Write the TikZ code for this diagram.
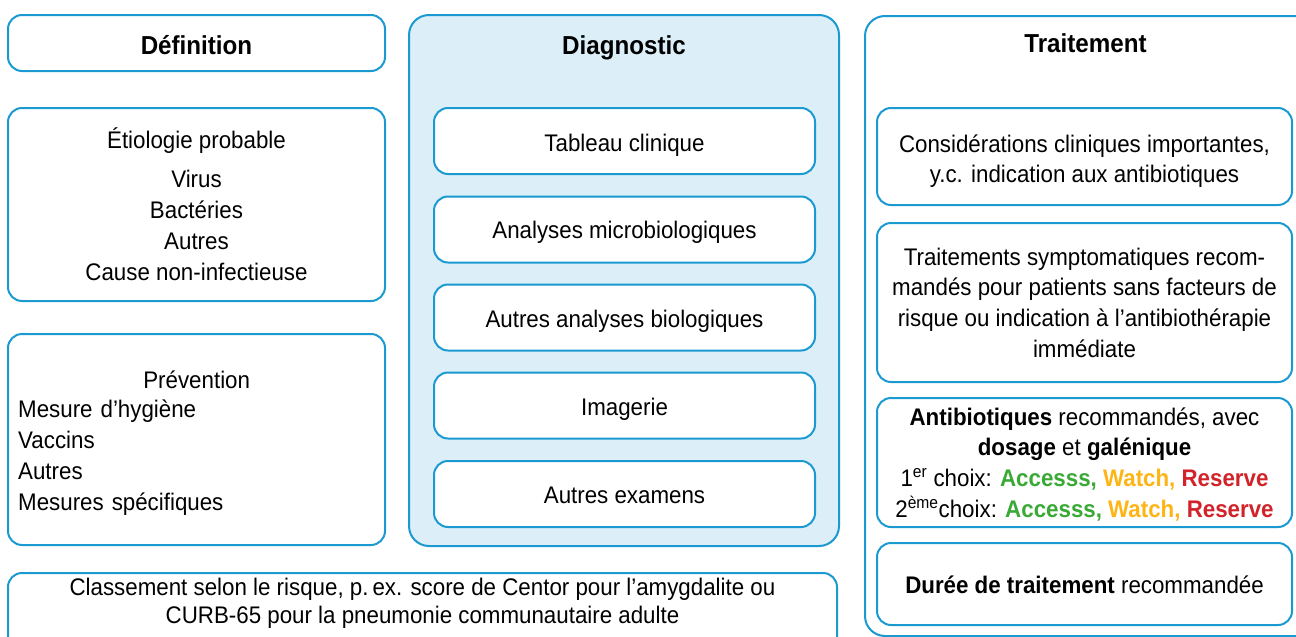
\documentclass[tikz,border=0pt]{standalone}
\usepackage{fontspec}
\setmainfont{Liberation Sans}[FakeStretch=0.93]
\definecolor{bblue}{HTML}{1B9AD2}
\definecolor{lblue}{HTML}{DCEEF8}
\definecolor{agreen}{HTML}{3AA935}
\definecolor{ayellow}{HTML}{FDB515}
\definecolor{ared}{HTML}{D2232A}
\newcommand{\topstrut}{\rule{0pt}{24pt}}
\begin{document}
\begin{tikzpicture}[x=1pt,y=-1pt,
  box/.style={draw=bblue, line width=2pt, rounded corners=14pt, fill=white, inner sep=0pt},
  outerbox/.style={draw=bblue, line width=2pt, rounded corners=20pt, inner sep=0pt},
  head/.style={font=\fontsize{26}{31}\selectfont\bfseries, anchor=base, inner sep=0pt},
  one/.style={font=\fontsize{24}{31}\selectfont, anchor=base, inner sep=0pt},
  multi/.style={font=\fontsize{24}{#1}\selectfont, align=center, anchor=north, inner sep=0pt},
  multi/.default=31,
]
\useasboundingbox (0,0) rectangle (1296,637);
\clip (0,0) rectangle (1296,637);

% ---------- left column ----------
\node[box, minimum width=377, minimum height=56] (def) at (196.5,43) {};
\node[head] (deft) at (196.5,54.5) {Définition};

\node[box, minimum width=377, minimum height=193] (etio) at (196.5,204.5) {};
\node[multi] (etiot) at (196.5,124) {\topstrut Étiologie probable\\[8pt]Virus\\Bactéries\\Autres\\Cause non-infectieuse};

\node[box, minimum width=377, minimum height=211] (prev) at (196.5,439.5) {};
\node[font=\fontsize{24}{31}\selectfont, align=left, text width=357, anchor=north west, inner sep=0pt]
  (prevt) at (18,364) {\topstrut\makebox[357pt]{Prévention}\\[-2pt]Mesure d’hygiène\\Vaccins\\Autres\\Mesures spécifiques};

% ---------- bottom box ----------
\node[box, minimum width=829, minimum height=120, anchor=north] (riskbox) at (422.5,572) {};
\node[multi=28] (risk) at (422.5,571) {\topstrut Classement selon le risque, p.\,ex. score de Centor pour l’amygdalite ou\\CURB-65 pour la pneumonie communautaire adulte};

% ---------- diagnostic ----------
\node[outerbox, fill=lblue, minimum width=430, minimum height=531] (diag) at (624,280.5) {};
\node[head] (diagt) at (624,54) {Diagnostic};
\node[box, minimum width=381, minimum height=66] (d1) at (624.5,141) {};
\node[one] (d1t) at (624.5,151) {Tableau clinique};
\node[box, minimum width=381, minimum height=66] (d2) at (624.5,229.5) {};
\node[one] (d2t) at (624.5,238.5) {Analyses microbiologiques};
\node[box, minimum width=381, minimum height=66] (d3) at (624.5,317.5) {};
\node[one] (d3t) at (624.5,327) {Autres analyses biologiques};
\node[box, minimum width=381, minimum height=66] (d4) at (624.5,405.5) {};
\node[one] (d4t) at (624.5,415) {Imagerie};
\node[box, minimum width=381, minimum height=66] (d5) at (624.5,494) {};
\node[one] (d5t) at (624.5,503) {Autres examens};

% ---------- traitement ----------
\node[outerbox, fill=white, minimum width=452, minimum height=620, anchor=north west] (trt) at (864,15) {};
\node[head] (trtt) at (1085.5,52.5) {Traitement};

\node[box, minimum width=415, minimum height=97] (t1) at (1084.5,156.5) {};
\node[multi=30] (t1t) at (1084.5,128)
  {\topstrut Considérations cliniques importantes,\\y.c. indication aux antibiotiques};

\node[box, minimum width=415, minimum height=159] (t2) at (1084.5,302.5) {};
\node[multi=30.7] (t2t) at (1084.5,241)
  {\topstrut Traitements symptomatiques recom-\\mandés pour patients sans facteurs de\\risque ou indication à l’antibiothérapie\\immédiate};

\node[box, minimum width=415, minimum height=129] (t3) at (1084.5,462.5) {};
\node[multi=30.7] (t3t) at (1084.5,401)
  {\topstrut\textbf{Antibiotiques} recommandés, avec\\\textbf{dosage} et \textbf{galénique}\\
   1\textsuperscript{er} choix: \textbf{\color{agreen}Accesss,} \textbf{\color{ayellow}Watch,} \textbf{\color{ared}Reserve}\\
   2\textsuperscript{ème}choix: \textbf{\color{agreen}Accesss,} \textbf{\color{ayellow}Watch,} \textbf{\color{ared}Reserve}};

\node[box, minimum width=415, minimum height=82] (t4) at (1084.5,584) {};
\node[one] (t4t) at (1084.5,593) {\textbf{Durée de traitement} recommandée};
\end{tikzpicture}
\end{document}
